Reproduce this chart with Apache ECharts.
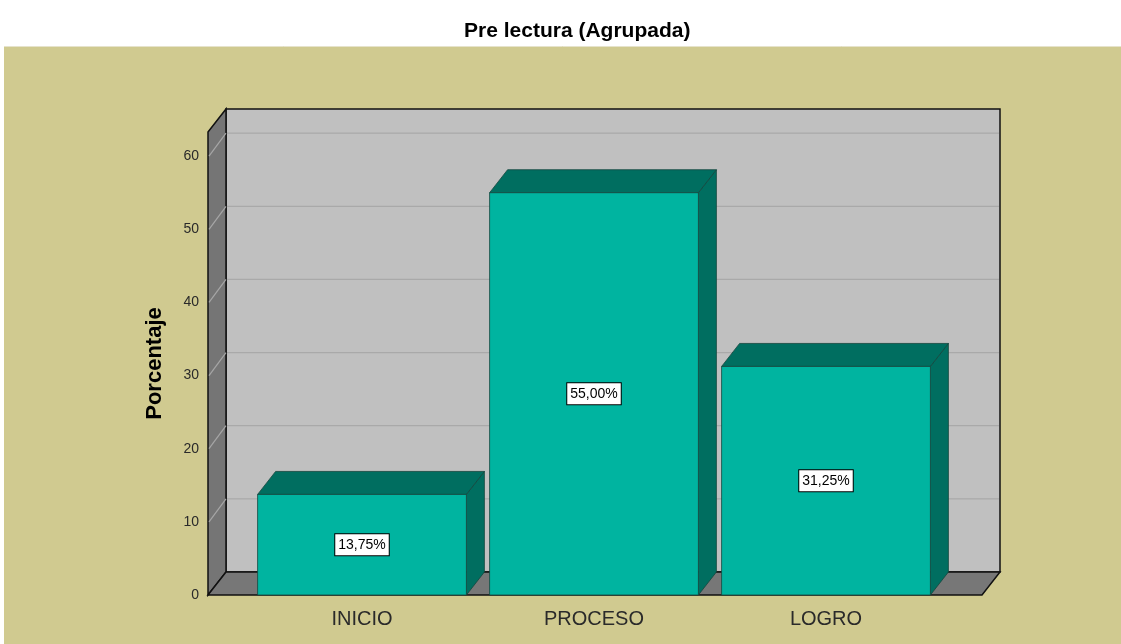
<!DOCTYPE html>
<html>
<head>
<meta charset="utf-8">
<script src="https://cdn.jsdelivr.net/npm/echarts@6/dist/echarts.min.js"></script>
<style>html,body{margin:0;padding:0;background:#fff;}#chart{width:1121px;height:644px;}</style>
</head>
<body>
<div id="chart"></div>
<script>
const titleText = 'Pre lectura (Agrupada)';
const yAxisName = 'Porcentaje';
const categories = ['INICIO', 'PROCESO', 'LOGRO'];
const percentages = [13.75, 55.00, 31.25];
const valueLabels = ['13,75%', '55,00%', '31,25%'];
const yTicks = [0, 10, 20, 30, 40, 50, 60];

const DX = 18, DY = -23;
const FONT = 'Arial, "Liberation Sans", sans-serif';

const chart = echarts.init(document.getElementById('chart'));

function wallsRender(params, api) {
  const cs = params.coordSys;
  const leftX = cs.x - 38, rightX = cs.x + cs.width + 40;
  const topY = cs.y, bottomY = cs.y + cs.height;
  const children = [];
  children.push({ type: 'rect', shape: { x: leftX + DX, y: topY + DY, width: rightX - leftX, height: bottomY - topY },
    style: { fill: '#c0c0c0', stroke: '#111', lineWidth: 1.5 } });
  children.push({ type: 'polygon', shape: { points: [[leftX, topY], [leftX + DX, topY + DY], [leftX + DX, bottomY + DY], [leftX, bottomY]] },
    style: { fill: '#757575', stroke: '#111', lineWidth: 1.5 } });
  children.push({ type: 'polygon', shape: { points: [[leftX, bottomY], [leftX + DX, bottomY + DY], [rightX + DX, bottomY + DY], [rightX, bottomY]] },
    style: { fill: '#777777', stroke: '#111', lineWidth: 1.5 } });
  yTicks.forEach(function (v) {
    if (v === 0) return;
    const y = api.coord([0, v])[1];
    children.push({ type: 'line', shape: { x1: leftX + 1, y1: y, x2: leftX + DX, y2: y + DY }, style: { stroke: '#a6a6a6', lineWidth: 1.2 } });
    children.push({ type: 'line', shape: { x1: leftX + DX + 1, y1: y + DY, x2: rightX + DX - 1, y2: y + DY }, style: { stroke: '#a9a9a9', lineWidth: 1.2 } });
  });
  return { type: 'group', children: children };
}

function barRender(params, api) {
  const idx = api.value(0);
  const top = api.coord([idx, api.value(1)]);
  const base = api.coord([idx, 0]);
  const bw = api.size([1, 0])[0] * 0.9;
  const x0 = top[0] - bw / 2, x1 = top[0] + bw / 2;
  const edge = { stroke: '#14463e', lineWidth: 0.8 };
  return {
    type: 'group',
    children: [
      { type: 'polygon', shape: { points: [[x1, top[1]], [x1 + DX, top[1] + DY], [x1 + DX, base[1] + DY], [x1, base[1]]] },
        style: Object.assign({ fill: '#006e60' }, edge) },
      { type: 'polygon', shape: { points: [[x0, top[1]], [x0 + DX, top[1] + DY], [x1 + DX, top[1] + DY], [x1, top[1]]] },
        style: Object.assign({ fill: '#006e60' }, edge) },
      { type: 'rect', shape: { x: x0, y: top[1], width: bw, height: base[1] - top[1] },
        style: Object.assign({ fill: '#00b4a0' }, edge) },
      { type: 'text', x: top[0], y: (top[1] + base[1]) / 2,
        style: { text: valueLabels[params.dataIndex], align: 'center', verticalAlign: 'middle',
          font: '14px ' + FONT, fill: '#000', backgroundColor: '#fff', borderColor: '#000', borderWidth: 1, padding: [4, 3, 3, 3] } }
    ]
  };
}

chart.setOption({
  animation: false,
  backgroundColor: '#ffffff',
  graphic: [
    { type: 'rect', z: -10, shape: { x: 4, y: 46, width: 1117, height: 598 }, style: { fill: '#d0ca90' } },
    { type: 'line', z: -9, shape: { x1: 4, y1: 46.5, x2: 1121, y2: 46.5 }, style: { stroke: '#e6e3cc', lineWidth: 1 } }
  ],
  title: {
    text: titleText, left: 459, top: 16,
    textStyle: { fontFamily: FONT, fontSize: 21, fontWeight: 'bold', color: '#000' }
  },
  grid: { left: 246, right: 179, top: 132, bottom: 49, containLabel: false },
  xAxis: {
    type: 'category', data: categories,
    axisLine: { show: false }, axisTick: { show: false }, splitLine: { show: false },
    axisLabel: { margin: 14, fontFamily: FONT, fontSize: 20, color: '#2a2a2a' }
  },
  yAxis: {
    type: 'value', min: 0, max: 63.3, interval: 10,
    name: yAxisName, nameLocation: 'middle', nameGap: 80, nameRotate: 90,
    nameTextStyle: { fontFamily: FONT, fontSize: 22, fontWeight: 'bold', color: '#000' },
    axisLine: { show: false }, axisTick: { show: false }, splitLine: { show: false },
    axisLabel: { margin: 47, fontFamily: FONT, fontSize: 14, color: '#2a2a2a', showMaxLabel: false,
      formatter: function (v) { return yTicks.indexOf(v) >= 0 ? String(v) : ''; } }
  },
  series: [
    { type: 'custom', z: 1, renderItem: wallsRender, data: [[0, 0]], silent: true },
    { type: 'custom', z: 3, renderItem: barRender, data: percentages.map(function (v, i) { return [i, v]; }) }
  ]
});
</script>
</body>
</html>
